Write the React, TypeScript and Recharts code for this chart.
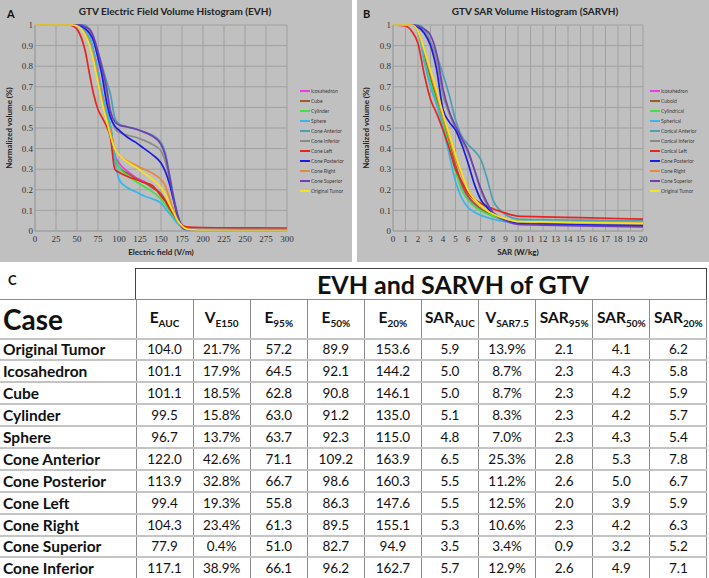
import React from "react";
import { LineChart, Line, XAxis, YAxis, CartesianGrid, Legend } from "recharts";

// series order / colours shared by both histograms
const SERIES_COLORS = [
  "#e83ee8", // icosahedron
  "#9e5b2a", // cube
  "#3fe33f", // cylinder
  "#38b6e6", // sphere
  "#4c9fb6", // cone anterior
  "#8a8a8a", // cone inferior
  "#e8241e", // cone left
  "#1c1ce0", // cone posterior
  "#e8883a", // cone right
  "#7040b0", // cone superior
  "#f4e31e", // original tumor
];

const EVH_NAMES = [
  "Icosahedron", "Cube", "Cylinder", "Sphere", "Cone Anterior", "Cone Inferior",
  "Cone Left", "Cone Posterior", "Cone Right", "Cone Superior", "Original Tumor",
];
const SARVH_NAMES = [
  "Icosahedron", "Cuboid", "Cylindrical", "Spherical", "Conical Anterior", "Conical Inferior",
  "Conical Left", "Cone Posterior", "Cone Right", "Cone Superior", "Original Tumor",
];

const VOLUME_TICKS = [0, 0.1, 0.2, 0.3, 0.4, 0.5, 0.6, 0.7, 0.8, 0.9, 1];

// ---- A: electric field volume histogram ----
const EVH_TICKS = [0, 25, 50, 75, 100, 125, 150, 175, 200, 225, 250, 275, 300];
const EVH_X = [0, 40, 45, 50, 55, 60, 65, 70, 75, 80, 85, 90, 95, 100, 110, 120, 130, 140, 150, 155, 160, 165, 170, 175, 180, 190, 200, 250, 300];
const EVH_ICOSAHEDRON = [1, 1, 1, 1, 0.99, 0.97, 0.94, 0.87, 0.78, 0.67, 0.58, 0.5, 0.37, 0.33, 0.29, 0.26, 0.24, 0.21, 0.18, 0.15, 0.11, 0.075, 0.045, 0.02, 0.008, 0.006, 0.006, 0.006, 0.006];
const EVH_CUBE = [1, 1, 1, 1, 0.99, 0.96, 0.93, 0.86, 0.76, 0.66, 0.57, 0.5, 0.36, 0.31, 0.28, 0.255, 0.235, 0.21, 0.18, 0.15, 0.115, 0.08, 0.045, 0.02, 0.008, 0.006, 0.006, 0.006, 0.006];
const EVH_CYLINDER = [1, 1, 1, 1, 0.99, 0.97, 0.93, 0.86, 0.77, 0.66, 0.58, 0.5, 0.36, 0.31, 0.27, 0.24, 0.215, 0.19, 0.155, 0.13, 0.1, 0.07, 0.04, 0.02, 0.008, 0.005, 0.005, 0.005, 0.005];
const EVH_SPHERE = [1, 1, 1, 1, 0.99, 0.97, 0.94, 0.87, 0.77, 0.67, 0.58, 0.51, 0.35, 0.25, 0.21, 0.19, 0.17, 0.155, 0.135, 0.11, 0.085, 0.06, 0.035, 0.015, 0.005, 0.004, 0.004, 0.004, 0.004];
const EVH_CONE_ANTERIOR = [1, 1, 1, 1, 1, 1, 0.97, 0.93, 0.87, 0.8, 0.73, 0.66, 0.55, 0.52, 0.505, 0.495, 0.48, 0.465, 0.43, 0.38, 0.28, 0.17, 0.08, 0.025, 0.01, 0.008, 0.008, 0.008, 0.008];
const EVH_CONE_INFERIOR = [1, 1, 1, 1, 1, 0.99, 0.97, 0.92, 0.85, 0.77, 0.67, 0.56, 0.5, 0.48, 0.465, 0.455, 0.44, 0.42, 0.39, 0.34, 0.25, 0.15, 0.07, 0.02, 0.008, 0.006, 0.006, 0.006, 0.006];
const EVH_CONE_LEFT = [1, 1, 0.995, 0.98, 0.94, 0.87, 0.76, 0.66, 0.59, 0.55, 0.51, 0.45, 0.3, 0.285, 0.265, 0.25, 0.235, 0.22, 0.17, 0.145, 0.11, 0.08, 0.05, 0.03, 0.02, 0.018, 0.017, 0.015, 0.014];
const EVH_CONE_POSTERIOR = [1, 1, 1, 1, 0.995, 0.98, 0.96, 0.92, 0.84, 0.75, 0.63, 0.55, 0.51, 0.49, 0.455, 0.43, 0.4, 0.37, 0.33, 0.29, 0.23, 0.15, 0.07, 0.02, 0.008, 0.006, 0.006, 0.006, 0.006];
const EVH_CONE_RIGHT = [1, 1, 1, 0.995, 0.98, 0.96, 0.91, 0.84, 0.74, 0.64, 0.55, 0.48, 0.4, 0.37, 0.34, 0.32, 0.3, 0.28, 0.25, 0.22, 0.16, 0.1, 0.05, 0.02, 0.01, 0.008, 0.008, 0.008, 0.008];
const EVH_CONE_SUPERIOR = [1, 1, 1, 1, 1, 0.99, 0.98, 0.94, 0.87, 0.79, 0.7, 0.58, 0.53, 0.515, 0.505, 0.495, 0.48, 0.46, 0.42, 0.37, 0.27, 0.16, 0.07, 0.02, 0.008, 0.007, 0.007, 0.007, 0.007];
const EVH_ORIGINAL = [1, 1, 1, 0.995, 0.98, 0.95, 0.9, 0.82, 0.72, 0.62, 0.54, 0.46, 0.4, 0.37, 0.335, 0.31, 0.28, 0.25, 0.21, 0.18, 0.13, 0.09, 0.05, 0.025, 0.01, 0.005, 0.004, 0.003, 0.003];

// ---- B: SAR volume histogram ----
const SAR_TICKS = [0, 1, 2, 3, 4, 5, 6, 7, 8, 9, 10, 11, 12, 13, 14, 15, 16, 17, 18, 19, 20];
const SAR_X = [0, 1, 1.5, 2, 2.5, 3, 3.5, 4, 4.5, 5, 5.5, 6, 6.5, 7, 7.5, 8, 8.5, 9, 10, 12, 15, 20];
const SAR_ICOSAHEDRON = [1, 1, 1, 0.97, 0.84, 0.73, 0.63, 0.52, 0.42, 0.31, 0.22, 0.16, 0.13, 0.105, 0.088, 0.072, 0.06, 0.05, 0.04, 0.036, 0.033, 0.03];
const SAR_CUBOID = [1, 1, 1, 0.97, 0.85, 0.74, 0.64, 0.53, 0.43, 0.32, 0.23, 0.17, 0.135, 0.108, 0.09, 0.074, 0.062, 0.052, 0.042, 0.04, 0.038, 0.035];
const SAR_CYLINDRICAL = [1, 1, 1, 0.97, 0.83, 0.72, 0.62, 0.52, 0.41, 0.29, 0.2, 0.15, 0.12, 0.1, 0.085, 0.072, 0.062, 0.055, 0.047, 0.046, 0.045, 0.043];
const SAR_SPHERICAL = [1, 1, 1, 0.97, 0.82, 0.7, 0.61, 0.5, 0.37, 0.24, 0.16, 0.115, 0.092, 0.077, 0.066, 0.057, 0.05, 0.045, 0.04, 0.039, 0.037, 0.035];
const SAR_CONICAL_ANTERIOR = [1, 1, 1, 1, 0.98, 0.92, 0.85, 0.76, 0.66, 0.54, 0.46, 0.42, 0.39, 0.35, 0.26, 0.15, 0.105, 0.08, 0.058, 0.055, 0.053, 0.05];
const SAR_CONICAL_INFERIOR = [1, 1, 1, 0.99, 0.97, 0.92, 0.82, 0.66, 0.57, 0.5, 0.44, 0.38, 0.3, 0.2, 0.13, 0.09, 0.068, 0.055, 0.04, 0.036, 0.033, 0.03];
const SAR_CONICAL_LEFT = [1, 0.995, 0.97, 0.91, 0.76, 0.64, 0.57, 0.49, 0.4, 0.3, 0.24, 0.185, 0.155, 0.135, 0.12, 0.108, 0.097, 0.087, 0.072, 0.069, 0.065, 0.058];
const SAR_CONE_POSTERIOR = [1, 1, 1, 0.99, 0.96, 0.9, 0.78, 0.59, 0.53, 0.49, 0.42, 0.33, 0.23, 0.155, 0.115, 0.085, 0.068, 0.055, 0.036, 0.033, 0.03, 0.025];
const SAR_CONE_RIGHT = [1, 1, 1, 0.97, 0.87, 0.77, 0.66, 0.55, 0.45, 0.35, 0.27, 0.2, 0.155, 0.125, 0.1, 0.082, 0.068, 0.058, 0.046, 0.044, 0.042, 0.04];
const SAR_CONE_SUPERIOR = [1, 1, 1, 0.995, 0.98, 0.95, 0.86, 0.69, 0.58, 0.51, 0.45, 0.39, 0.3, 0.21, 0.14, 0.09, 0.065, 0.05, 0.032, 0.029, 0.025, 0.02];
const SAR_ORIGINAL = [1, 1, 1, 0.97, 0.88, 0.78, 0.68, 0.57, 0.47, 0.37, 0.28, 0.2, 0.155, 0.125, 0.1, 0.082, 0.07, 0.06, 0.046, 0.044, 0.041, 0.037];

// ---- C: summary table ----
const CASES = [
  "Original Tumor", "Icosahedron", "Cube", "Cylinder", "Sphere", "Cone Anterior",
  "Cone Posterior", "Cone Left", "Cone Right", "Cone Superior", "Cone Inferior",
];
const COL_E_AUC = ["104.0", "101.1", "101.1", "99.5", "96.7", "122.0", "113.9", "99.4", "104.3", "77.9", "117.1"];
const COL_V_E150 = ["21.7%", "17.9%", "18.5%", "15.8%", "13.7%", "42.6%", "32.8%", "19.3%", "23.4%", "0.4%", "38.9%"];
const COL_E95 = ["57.2", "64.5", "62.8", "63.0", "63.7", "71.1", "66.7", "55.8", "61.3", "51.0", "66.1"];
const COL_E50 = ["89.9", "92.1", "90.8", "91.2", "92.3", "109.2", "98.6", "86.3", "89.5", "82.7", "96.2"];
const COL_E20 = ["153.6", "144.2", "146.1", "135.0", "115.0", "163.9", "160.3", "147.6", "155.1", "94.9", "162.7"];
const COL_SAR_AUC = ["5.9", "5.0", "5.0", "5.1", "4.8", "6.5", "5.5", "5.5", "5.3", "3.5", "5.7"];
const COL_V_SAR75 = ["13.9%", "8.7%", "8.7%", "8.3%", "7.0%", "25.3%", "11.2%", "12.5%", "10.6%", "3.4%", "12.9%"];
const COL_SAR95 = ["2.1", "2.3", "2.3", "2.3", "2.3", "2.8", "2.6", "2.0", "2.3", "0.9", "2.6"];
const COL_SAR50 = ["4.1", "4.3", "4.2", "4.2", "4.3", "5.3", "5.0", "3.9", "4.2", "3.2", "4.9"];
const COL_SAR20 = ["6.2", "5.8", "5.9", "5.7", "5.4", "7.8", "6.7", "5.9", "6.3", "5.2", "7.1"];
const COL_HEADERS: [string, string][] = [
  ["E", "AUC"], ["V", "E150"], ["E", "95%"], ["E", "50%"], ["E", "20%"],
  ["SAR", "AUC"], ["V", "SAR7.5"], ["SAR", "95%"], ["SAR", "50%"], ["SAR", "20%"],
];
const TABLE_COLUMNS = [COL_E_AUC, COL_V_E150, COL_E95, COL_E50, COL_E20, COL_SAR_AUC, COL_V_SAR75, COL_SAR95, COL_SAR50, COL_SAR20];

const PANEL_W = 352;
const PANEL_H = 262;
const LEGEND_W = 50;
const GRID = "#a0a0a0";
const TICK_STYLE = { fontFamily: "Liberation Serif", fontSize: 9, fill: "#333" };
const AXIS_TITLE = { fontFamily: "Lato", fontWeight: 700, fontSize: 8, fill: "#222" };

function HistogramPanel(props: {
  left: number;
  letter: string;
  title: string;
  xLabel: string;
  xs: number[];
  series: number[][];
  names: string[];
  xTicks: number[];
  plotLeft: number;
  plotRight: number;
  legendLeft: number;
  titleCenter: number;
}) {
  const { left, letter, title, xLabel, xs, series, names, xTicks, plotLeft, plotRight, legendLeft, titleCenter } = props;
  const data = xs.map((x, i) => {
    const row: Record<string, number> = { x };
    series.forEach((s, k) => {
      row["s" + k] = s[i];
    });
    return row;
  });

  const renderLegend = () => (
    <div style={{ fontFamily: "Lato", fontSize: 5, color: "#3a3a3a", lineHeight: "10px" }}>
      {names.map((name, k) => (
        <div key={name} style={{ display: "flex", alignItems: "center", height: 10, whiteSpace: "nowrap" }}>
          <span style={{ display: "inline-block", width: 10, height: 2, background: SERIES_COLORS[k], marginRight: 1 }} />
          <span>{name}</span>
        </div>
      ))}
    </div>
  );

  return (
    <div style={{ position: "absolute", left, top: 0, width: PANEL_W, height: PANEL_H, background: "#c0c0c0" }}>
      <LineChart
        width={PANEL_W}
        height={PANEL_H}
        data={data}
        margin={{ top: 25, right: PANEL_W - plotRight - LEGEND_W, bottom: 1, left: 0 }}
      >
        <CartesianGrid stroke={GRID} />
        <XAxis
          dataKey="x"
          type="number"
          domain={[xTicks[0], xTicks[xTicks.length - 1]]}
          ticks={xTicks}
          interval={0}
          height={30}
          stroke={GRID}
          tickLine={false}
          tickSize={3}
          tickMargin={2}
          tick={TICK_STYLE}
          label={{ value: xLabel, position: "insideBottom", offset: 6, style: AXIS_TITLE }}
        />
        <YAxis
          type="number"
          domain={[0, 1]}
          ticks={VOLUME_TICKS}
          interval={0}
          width={plotLeft}
          stroke={GRID}
          tickLine={false}
          tickSize={2}
          tickMargin={0}
          tick={TICK_STYLE}
          label={{
            value: "Normalized volume (%)",
            angle: -90,
            position: "insideLeft",
            offset: 9,
            style: { ...AXIS_TITLE, textAnchor: "middle" },
          }}
        />
        <Legend
          layout="vertical"
          align="right"
          verticalAlign="top"
          width={LEGEND_W}
          wrapperStyle={{ left: legendLeft, top: 86 }}
          content={renderLegend}
        />
        {series.map((_, k) => (
          <Line
            key={names[k]}
            dataKey={"s" + k}
            name={names[k]}
            type="monotone"
            stroke={SERIES_COLORS[k]}
            strokeWidth={1.7}
            dot={false}
            isAnimationActive={false}
          />
        ))}
      </LineChart>
      <div style={{ position: "absolute", left: letter === "A" ? 7 : 6, top: 7, fontFamily: "Lato", fontWeight: 700, fontSize: 11, color: "#111" }}>
        {letter}
      </div>
      <div
        style={{
          position: "absolute",
          left: titleCenter - 150,
          width: 300,
          top: 5,
          textAlign: "center",
          fontFamily: "Lato",
          fontWeight: 700,
          fontSize: 10,
          color: "#222",
        }}
      >
        {title}
      </div>
    </div>
  );
}

const cellBase: React.CSSProperties = {
  borderRight: "1px solid #8a8a8a",
  borderBottom: "2px solid #c4c4c4",
  padding: 0,
  textAlign: "center",
};

function SummaryTable() {
  return (
    <>
      <div style={{ position: "absolute", left: 8, top: 272, fontFamily: "Lato", fontWeight: 700, fontSize: 13, color: "#111" }}>C</div>
      <div
        style={{
          position: "absolute",
          left: 135,
          top: 268,
          width: 572,
          height: 31,
          boxSizing: "border-box",
          border: "1px solid #444",
          borderBottom: "none",
          fontFamily: "Lato",
          fontWeight: 700,
          fontSize: 25,
          lineHeight: "30px",
          textAlign: "center",
          paddingLeft: 64,
          color: "#111",
        }}
      >
        EVH and SARVH of GTV
      </div>
      <table
        style={{
          position: "absolute",
          left: 0,
          top: 299,
          width: 707,
          borderCollapse: "collapse",
          tableLayout: "fixed",
          fontFamily: "Lato",
          color: "#111",
        }}
      >
        <colgroup>
          <col style={{ width: 136 }} />
          {COL_HEADERS.map((_, i) => (
            <col key={i} style={{ width: 57.1 }} />
          ))}
        </colgroup>
        <tbody>
          <tr style={{ height: 39 }}>
            <td style={{ ...cellBase, textAlign: "left", paddingLeft: 3, fontWeight: 700, fontSize: 28, borderTop: "1px solid #8a8a8a" }}>Case</td>
            {COL_HEADERS.map(([main, sub]) => (
              <td key={main + sub} style={{ ...cellBase, fontWeight: 700, fontSize: 15.5, borderTop: "1px solid #8a8a8a", whiteSpace: "nowrap" }}>
                {main}
                <span style={{ fontSize: 10, verticalAlign: -4 }}>{sub}</span>
              </td>
            ))}
          </tr>
          {CASES.map((name, r) => (
            <tr key={name} style={{ height: 21.9 }}>
              <td style={{ ...cellBase, textAlign: "left", paddingLeft: 3, fontWeight: 700, fontSize: 15.5, whiteSpace: "nowrap" }}>{name}</td>
              {TABLE_COLUMNS.map((col, c) => (
                <td key={c} style={{ ...cellBase, fontSize: 13.5 }}>
                  {col[r]}
                </td>
              ))}
            </tr>
          ))}
        </tbody>
      </table>
    </>
  );
}

export default function App() {
  const evhSeries = [
    EVH_ICOSAHEDRON, EVH_CUBE, EVH_CYLINDER, EVH_SPHERE, EVH_CONE_ANTERIOR, EVH_CONE_INFERIOR,
    EVH_CONE_LEFT, EVH_CONE_POSTERIOR, EVH_CONE_RIGHT, EVH_CONE_SUPERIOR, EVH_ORIGINAL,
  ];
  const sarSeries = [
    SAR_ICOSAHEDRON, SAR_CUBOID, SAR_CYLINDRICAL, SAR_SPHERICAL, SAR_CONICAL_ANTERIOR, SAR_CONICAL_INFERIOR,
    SAR_CONICAL_LEFT, SAR_CONE_POSTERIOR, SAR_CONE_RIGHT, SAR_CONE_SUPERIOR, SAR_ORIGINAL,
  ];
  return (
    <div style={{ position: "relative", width: 709, height: 578, background: "#fff", overflow: "hidden" }}>
      <style>{"body{margin:0}"}</style>
      <HistogramPanel
        left={0}
        letter="A"
        title="GTV Electric Field Volume Histogram (EVH)"
        xLabel="Electric field (V/m)"
        xs={EVH_X}
        series={evhSeries}
        names={EVH_NAMES}
        xTicks={EVH_TICKS}
        plotLeft={35}
        plotRight={287}
        legendLeft={300}
        titleCenter={175}
      />
      <HistogramPanel
        left={357}
        letter="B"
        title="GTV SAR Volume Histogram (SARVH)"
        xLabel="SAR (W/kg)"
        xs={SAR_X}
        series={sarSeries}
        names={SARVH_NAMES}
        xTicks={SAR_TICKS}
        plotLeft={36}
        plotRight={286}
        legendLeft={293}
        titleCenter={178}
      />
      <SummaryTable />
    </div>
  );
}
